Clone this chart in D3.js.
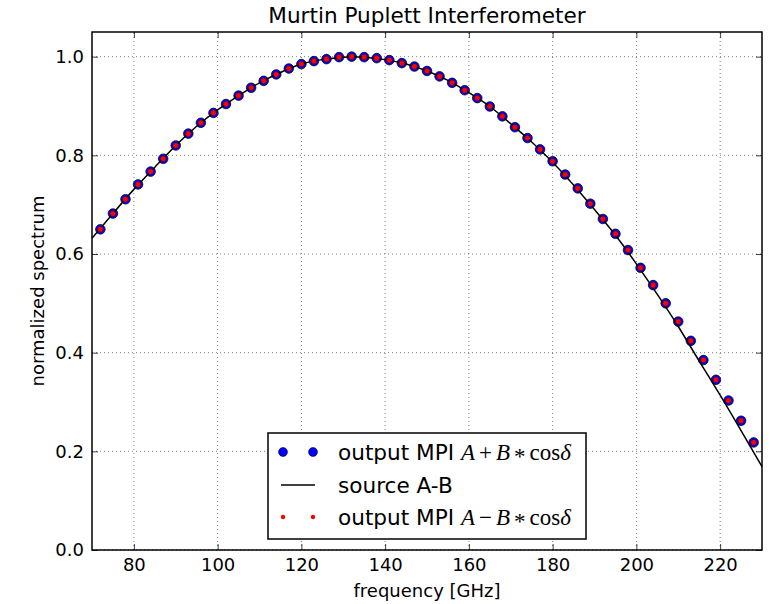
<!DOCTYPE html>
<html>
<head>
<meta charset="utf-8">
<script src="https://cdn.jsdelivr.net/npm/d3@7"></script>
<style>
    body { margin: 0; background: #fff; }
    text { font-family: "DejaVu Sans", sans-serif; fill: #000; }
</style>
</head>
<body>
<svg id="chart" width="770" height="604"></svg>
<script>
// frequencies [GHz] of the sampled MPI output
const freqs = [72, 75, 78, 81, 84, 87, 90, 93, 96, 99, 102, 105, 108, 111, 114, 117, 120,
    123, 126, 129, 132, 135, 138, 141, 144, 147, 150, 153, 156, 159, 162, 165, 168, 171,
    174, 177, 180, 183, 186, 189, 192, 195, 198, 201, 204, 207, 210, 213, 216, 219, 222,
    225, 228];

// output MPI A+B*cos(delta)
const mpiPlus = [0.650, 0.682, 0.711, 0.741, 0.767, 0.793, 0.820, 0.844, 0.866, 0.886,
    0.904, 0.921, 0.937, 0.951, 0.964, 0.976, 0.985, 0.991, 0.995, 0.999, 1.000, 0.999,
    0.997, 0.993, 0.987, 0.980, 0.971, 0.960, 0.947, 0.932, 0.916, 0.899, 0.879, 0.857,
    0.835, 0.812, 0.788, 0.761, 0.733, 0.702, 0.671, 0.641, 0.608, 0.572, 0.537, 0.500,
    0.463, 0.424, 0.385, 0.345, 0.303, 0.262, 0.218];

// output MPI A-B*cos(delta) sits exactly on top of the blue points
const mpiMinus = [0.650, 0.682, 0.711, 0.741, 0.767, 0.793, 0.820, 0.844, 0.866, 0.886,
    0.904, 0.921, 0.937, 0.951, 0.964, 0.976, 0.985, 0.991, 0.995, 0.999, 1.000, 0.999,
    0.997, 0.993, 0.987, 0.980, 0.971, 0.960, 0.947, 0.932, 0.916, 0.899, 0.879, 0.857,
    0.835, 0.812, 0.788, 0.761, 0.733, 0.702, 0.671, 0.641, 0.608, 0.572, 0.537, 0.500,
    0.463, 0.424, 0.385, 0.345, 0.303, 0.262, 0.218];

// source A-B curve
const sourceFreqs = [70, 75, 80, 85, 90, 95, 100, 105, 110, 115, 120, 125, 130, 135, 140,
    145, 150, 155, 160, 165, 170, 175, 180, 185, 190, 195, 200, 205, 210, 215, 220, 225, 230];
const sourceValues = [0.632, 0.682, 0.731, 0.776, 0.820, 0.859, 0.892, 0.921, 0.947,
    0.968, 0.985, 0.994, 0.999, 0.999, 0.994, 0.985, 0.971, 0.952, 0.927, 0.899, 0.864,
    0.827, 0.786, 0.740, 0.690, 0.638, 0.580, 0.518, 0.453, 0.383, 0.314, 0.242, 0.169];

const xTicks = [80, 100, 120, 140, 160, 180, 200, 220];
const yTicks = [0.0, 0.2, 0.4, 0.6, 0.8, 1.0];

const margin = { left: 92, right: 8, top: 32, bottom: 54 };
const width = 770;
const height = 604;

(function() {
    const svg = d3.select("#chart");

    const x = d3.scaleLinear().domain([70, 230]).range([margin.left, width - margin.right]);
    const y = d3.scaleLinear().domain([0, 1.05]).range([height - margin.bottom, margin.top]);

    const x0 = x.range()[0], x1 = x.range()[1];
    const y0 = y.range()[0], y1 = y.range()[1];

    svg.append("rect").attr("width", width).attr("height", height).attr("fill", "#fff");

    // dotted grid
    const grid = svg.append("g")
        .attr("stroke", "#555")
        .attr("stroke-width", 0.75)
        .attr("stroke-dasharray", "1,3");
    grid.selectAll(".gx").data(xTicks).enter().append("line")
        .attr("x1", d => x(d)).attr("x2", d => x(d))
        .attr("y1", y0).attr("y2", y1);
    grid.selectAll(".gy").data(yTicks).enter().append("line")
        .attr("x1", x0).attr("x2", x1)
        .attr("y1", d => y(d)).attr("y2", d => y(d));

    // axes with inward ticks on all four sides
    const styleAxis = (g) => {
        g.select(".domain").remove();
        g.selectAll(".tick line").attr("stroke", "#000").attr("stroke-width", 0.75);
        g.selectAll(".tick text")
            .attr("font-family", "DejaVu Sans")
            .attr("font-size", 18)
            .attr("fill", "#000");
    };

    svg.append("g")
        .attr("transform", "translate(0," + y0 + ")")
        .call(d3.axisBottom(x).tickValues(xTicks).tickSizeInner(-6).tickSizeOuter(0).tickPadding(8))
        .call(styleAxis);
    svg.append("g")
        .attr("transform", "translate(0," + y1 + ")")
        .call(d3.axisTop(x).tickValues(xTicks).tickSizeInner(-6).tickSizeOuter(0).tickFormat(""))
        .call(styleAxis);
    svg.append("g")
        .attr("transform", "translate(" + x0 + ",0)")
        .call(d3.axisLeft(y).tickValues(yTicks).tickSizeInner(-6).tickSizeOuter(0)
            .tickPadding(8).tickFormat(d3.format(".1f")))
        .call(styleAxis);
    svg.append("g")
        .attr("transform", "translate(" + x1 + ",0)")
        .call(d3.axisRight(y).tickValues(yTicks).tickSizeInner(-6).tickSizeOuter(0).tickFormat(""))
        .call(styleAxis);

    const plot = svg.append("g");

    // blue points first, then the source line, then the red points
    plot.selectAll(".plus").data(freqs).enter().append("circle")
        .attr("cx", d => x(d))
        .attr("cy", (d, i) => y(mpiPlus[i]))
        .attr("r", 4.8)
        .attr("fill", "#0000ff")
        .attr("stroke", "#000")
        .attr("stroke-width", 0.75);

    const line = d3.line()
        .x((d, i) => x(sourceFreqs[i]))
        .y(d => y(d))
        .curve(d3.curveNatural);

    plot.append("path")
        .datum(sourceValues)
        .attr("d", line)
        .attr("fill", "none")
        .attr("stroke", "#000")
        .attr("stroke-width", 1.5);

    plot.selectAll(".minus").data(freqs).enter().append("circle")
        .attr("cx", d => x(d))
        .attr("cy", (d, i) => y(mpiMinus[i]))
        .attr("r", 2.8)
        .attr("fill", "#ff0000")
        .attr("stroke", "#000")
        .attr("stroke-width", 0.3);

    // frame
    svg.append("rect")
        .attr("x", x0).attr("y", y1)
        .attr("width", x1 - x0).attr("height", y0 - y1)
        .attr("fill", "none")
        .attr("stroke", "#000")
        .attr("stroke-width", 1.5);

    // title and axis labels
    svg.append("text")
        .attr("x", (x0 + x1) / 2).attr("y", 23)
        .attr("text-anchor", "middle")
        .attr("font-size", 21.6)
        .text("Murtin Puplett Interferometer");

    svg.append("text")
        .attr("x", (x0 + x1) / 2).attr("y", 597)
        .attr("text-anchor", "middle")
        .attr("font-size", 18)
        .text("frequency [GHz]");

    svg.append("text")
        .attr("transform", "translate(44," + (y0 + y1) / 2 + ") rotate(-90)")
        .attr("text-anchor", "middle")
        .attr("font-size", 18)
        .text("normalized spectrum");

    // legend, lower center
    const legend = svg.append("g");
    legend.append("rect")
        .attr("x", 268).attr("y", 433)
        .attr("width", 318).attr("height", 106)
        .attr("fill", "#fff")
        .attr("stroke", "#000")
        .attr("stroke-width", 1.5);

    const rows = [452, 485, 517];
    const handleX = [283, 313];

    legend.selectAll(".lb").data(handleX).enter().append("circle")
        .attr("cx", d => d).attr("cy", rows[0]).attr("r", 4.5)
        .attr("fill", "#0000ff").attr("stroke", "#000").attr("stroke-width", 0.5);
    legend.append("line")
        .attr("x1", handleX[0] - 2).attr("x2", handleX[1] + 2)
        .attr("y1", rows[1]).attr("y2", rows[1])
        .attr("stroke", "#000").attr("stroke-width", 1.5);
    legend.selectAll(".lr").data(handleX).enter().append("circle")
        .attr("cx", d => d).attr("cy", rows[2]).attr("r", 2.2)
        .attr("fill", "#ff0000");

    // "output MPI" plus the mathtext part in an italic serif
    const mathLabel = (yPos, op) => {
        const t = legend.append("text")
            .attr("x", 338).attr("y", yPos + 7.5)
            .attr("font-size", 21.6);
        t.append("tspan").text("output MPI ");
        const serif = "Liberation Serif";
        t.append("tspan").attr("font-family", serif).attr("font-size", 23)
            .attr("font-style", "italic").text("A");
        t.append("tspan").attr("font-family", serif).attr("font-size", 23).attr("dx", 4).text(op);
        t.append("tspan").attr("font-family", serif).attr("font-size", 23)
            .attr("font-style", "italic").attr("dx", 4).text("B");
        t.append("tspan").attr("font-family", serif).attr("font-size", 23)
            .attr("dx", 4).attr("dy", 4).text("*");
        t.append("tspan").attr("font-family", serif).attr("font-size", 23)
            .attr("dx", 4).attr("dy", -4).text("cos");
        t.append("tspan").attr("font-family", serif).attr("font-size", 23)
            .attr("font-style", "italic").text("\u03b4");
    };

    mathLabel(rows[0], "+");
    legend.append("text")
        .attr("x", 338).attr("y", rows[1] + 7.5)
        .attr("font-size", 21.6)
        .text("source A-B");
    mathLabel(rows[2], "\u2212");
})();
</script>
</body>
</html>
